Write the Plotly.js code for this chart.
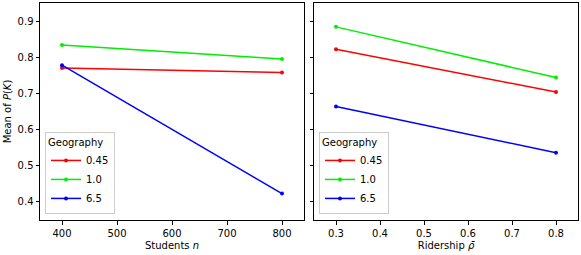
<!DOCTYPE html>
<html><head><meta charset="utf-8">
<script src="https://cdn.plot.ly/plotly-3.0.1.min.js"></script>
<style>html,body{margin:0;padding:0;background:#fff}</style>
</head><body><div id="chart" style="width:581px;height:255px"></div>
<script>
const geographies = ["0.45", "1.0", "6.5"];
const colors = ["#ff0000", "#00ee00", "#0000ff"];
const students = [400, 800];
const studentMeans = [[0.770, 0.758], [0.834, 0.795], [0.778, 0.423]];
const ridership = [0.3, 0.8];
const ridershipMeans = [[0.822, 0.704], [0.884, 0.744], [0.664, 0.536]];

const font = {family: "DejaVu Sans", size: 10, color: "#000"};
const traces = [];
geographies.forEach((g, i) => {
  traces.push({x: students, y: studentMeans[i], name: g, mode: "lines+markers",
    line: {color: colors[i], width: 1.5}, marker: {color: colors[i], size: 4},
    xaxis: "x", yaxis: "y", legend: "legend"});
});
geographies.forEach((g, i) => {
  traces.push({x: ridership, y: ridershipMeans[i], name: g, mode: "lines+markers",
    line: {color: colors[i], width: 1.5}, marker: {color: colors[i], size: 4},
    xaxis: "x2", yaxis: "y2", legend: "legend2"});
});

const axisBase = {showline: true, mirror: true, linecolor: "#000", linewidth: 1,
  ticks: "outside", ticklen: 3.5, tickcolor: "#000", showgrid: false, zeroline: false,
  tickfont: font};
const legendBase = {bgcolor: "rgba(255,255,255,0.8)", bordercolor: "#cccccc", borderwidth: 1,
  font: font, title: {text: "Geography", font: font}, xanchor: "left", yanchor: "bottom",
  tracegroupgap: 0, itemwidth: 30};

const layout = {
  width: 581, height: 255,
  margin: {l: 40, r: 3, t: 3, b: 35},
  paper_bgcolor: "#fff", plot_bgcolor: "#fff",
  font: font,
  xaxis: Object.assign({}, axisBase, {domain: [0, 0.4907], range: [360, 840],
    tickvals: [400, 500, 600, 700, 800],
    title: {text: "Students <i>n</i>", font: font, standoff: 4}}),
  yaxis: Object.assign({}, axisBase, {range: [0.35, 0.95],
    tickvals: [0.4, 0.5, 0.6, 0.7, 0.8, 0.9], tickformat: ".1f",
    title: {text: "Mean of <i>P</i>(<i>K</i>)", font: font, standoff: 4}}),
  xaxis2: Object.assign({}, axisBase, {domain: [0.5093, 1], range: [0.25, 0.85],
    tickvals: [0.3, 0.4, 0.5, 0.6, 0.7, 0.8], tickformat: ".1f", anchor: "y2",
    title: {text: "Ridership <i>ρ̄</i>", font: font, standoff: 4}}),
  yaxis2: Object.assign({}, axisBase, {range: [0.35, 0.95], anchor: "x2",
    tickvals: [0.4, 0.5, 0.6, 0.7, 0.8, 0.9], showticklabels: false}),
  legend: Object.assign({}, legendBase, {x: 0.0093, y: 0.028}),
  legend2: Object.assign({}, legendBase, {x: 0.5186, y: 0.028}),
  showlegend: true
};
Plotly.newPlot("chart", traces, layout, {staticPlot: true, displayModeBar: false});
</script></body></html>
